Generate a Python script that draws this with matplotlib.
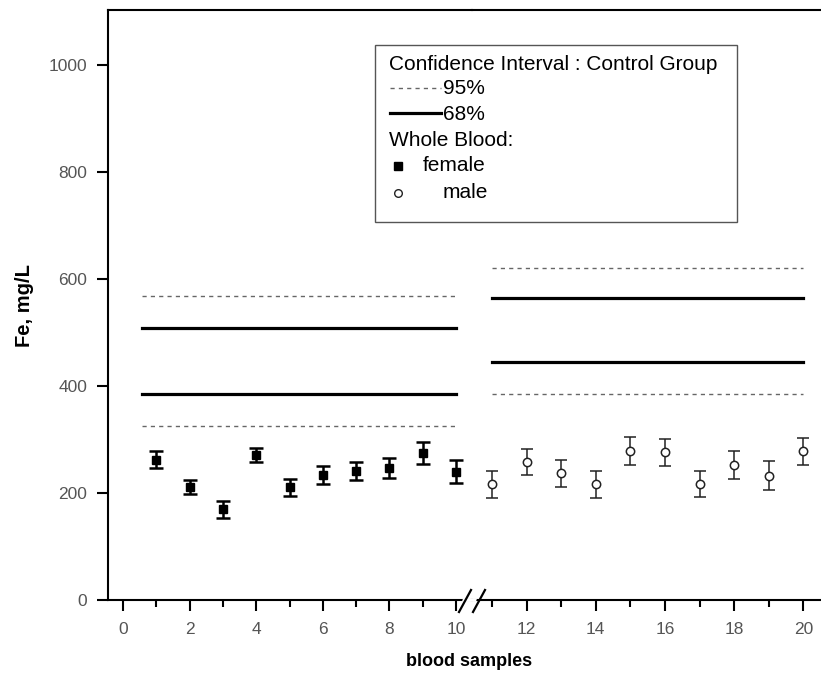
import matplotlib
matplotlib.use("Agg")
import matplotlib.pyplot as plt
from matplotlib.lines import Line2D
from matplotlib.patches import Rectangle, Polygon
import numpy as np

plt.rcParams['font.family'] = ['Liberation Sans', 'DejaVu Sans']

# ---- data ----
female_x = [1, 2, 3, 4, 5, 6, 7, 8, 9, 10]
female_y = [262, 211, 170, 271, 211, 234, 241, 247, 275, 240]
female_err = [16, 13, 16, 13, 16, 17, 17, 18, 21, 22]

male_x = [11, 12, 13, 14, 15, 16, 17, 18, 19, 20]
male_y = [216, 258, 237, 216, 278, 276, 217, 253, 232, 278]
male_err = [25, 25, 25, 25, 26, 25, 25, 26, 27, 25]

female_ci95 = [325, 568]
female_ci68 = [385, 508]
female_span = [0.57, 10]
male_ci95 = [385, 620]
male_ci68 = [445, 564]
male_span = [11, 20]

left_ticks = [0, 2, 4, 6, 8, 10]
right_ticks = [12, 14, 16, 18, 20]
y_ticks = [0, 200, 400, 600, 800, 1000]

W, H = 821, 674
fig = plt.figure(figsize=(W / 100, H / 100), dpi=100)

def fx(px):
    return px / W

def fy(py):
    return 1 - py / H

top_px, bot_px = 10, 600
break_px = 472
ax1 = fig.add_axes([fx(108), fy(bot_px), fx(break_px) - fx(108), fy(top_px) - fy(bot_px)])
ax2 = fig.add_axes([fx(break_px), fy(bot_px), fx(832) - fx(break_px), fy(top_px) - fy(bot_px)])

ax1.set_xlim(-0.45, 10.48)
ax2.set_xlim(10.42, 20.83)
for ax in (ax1, ax2):
    ax.set_ylim(0, 1103)
    ax.set_facecolor('none')
    for s in ax.spines.values():
        s.set_linewidth(1.5)
    ax.tick_params(axis='both', which='major', direction='out', length=8, width=1.5,
                   labelsize=12.5, labelcolor='#555555')
    ax.tick_params(axis='x', which='major', pad=8)
    ax.tick_params(axis='y', which='major', pad=7)
    ax.tick_params(axis='both', which='minor', direction='out', length=5, width=1.5)

ax1.spines['right'].set_visible(False)
ax2.spines['left'].set_visible(False)
ax2.spines['right'].set_visible(False)
ax2.tick_params(axis='y', which='both', left=False, labelleft=False)

ax1.set_xticks(left_ticks)
ax1.set_xticks([1, 3, 5, 7, 9], minor=True)
ax2.set_xticks(right_ticks)
ax2.set_xticks([11, 13, 15, 17, 19], minor=True)
ax1.set_yticks(y_ticks)

# CI lines
dash = (0, (3, 3))
ax1.plot(female_span, [female_ci95[0]] * 2, ls=dash, color='#666666', lw=1.0)
ax1.plot(female_span, [female_ci95[1]] * 2, ls=dash, color='#666666', lw=1.0)
ax1.plot(female_span, [female_ci68[0]] * 2, color='black', lw=2.3)
ax1.plot(female_span, [female_ci68[1]] * 2, color='black', lw=2.3)
ax2.plot(male_span, [male_ci95[0]] * 2, ls=dash, color='#666666', lw=1.0)
ax2.plot(male_span, [male_ci95[1]] * 2, ls=dash, color='#666666', lw=1.0)
ax2.plot(male_span, [male_ci68[0]] * 2, color='black', lw=2.3)
ax2.plot(male_span, [male_ci68[1]] * 2, color='black', lw=2.3)

# data points
ax1.errorbar(female_x, female_y, yerr=female_err, fmt='s', color='black', ms=5.6,
             ecolor='black', elinewidth=1.8, capsize=4.8, capthick=1.8)
ax2.errorbar(male_x, male_y, yerr=male_err, fmt='o', mfc='white', mec='#222222', ms=6,
             mew=1.1, ecolor='#222222', elinewidth=1.1, capsize=4.0, capthick=1.1)

fig.text(fx(24), fy(306), 'Fe, mg/L', fontsize=14.5, fontweight='bold',
         rotation=90, ha='center', va='center')
fig.text(fx(469), fy(662), 'blood samples', fontsize=13, fontweight='bold',
         ha='center', va='center')

# break marks
fig.add_artist(Polygon([(fx(462), fy(601.5)), (fx(476), fy(601.5)), (fx(477), fy(598.5)), (fx(463), fy(598.5))],
                       closed=True, facecolor='white', edgecolor='none', transform=fig.transFigure, zorder=5))
for x0 in (459, 473):
    fig.add_artist(Line2D([fx(x0), fx(x0 + 12)], [fy(612), fy(590)], color='black', lw=1.6,
                          transform=fig.transFigure, zorder=6))

# legend box (manual)
fig.add_artist(Rectangle((fx(375), fy(222)), fx(737) - fx(375), fy(45) - fy(222),
                         facecolor='white', edgecolor='#555555', lw=1.0,
                         transform=fig.transFigure, zorder=7))
tkw = dict(fontsize=15, va='center', ha='left', color='black', zorder=8)
fig.text(fx(389), fy(64), 'Confidence Interval : Control Group', **tkw)
fig.add_artist(Line2D([fx(390), fx(441)], [fy(88), fy(88)], ls=dash, color='#666666', lw=1.0,
                      transform=fig.transFigure, zorder=8))
fig.text(fx(443), fy(89), '95%', **tkw)
fig.add_artist(Line2D([fx(390), fx(441)], [fy(113), fy(113)], color='black', lw=2.3,
                      transform=fig.transFigure, zorder=8))
fig.text(fx(443), fy(114), '68%', **tkw)
fig.text(fx(389), fy(140), 'Whole Blood:', **tkw)
fig.add_artist(Line2D([fx(398)], [fy(166)], marker='s', ms=5.6, color='black', ls='none',
                      transform=fig.transFigure, zorder=8))
fig.text(fx(423), fy(166), 'female', **tkw)
fig.add_artist(Line2D([fx(398)], [fy(193)], marker='o', ms=5.5, mfc='white', mec='#222222', mew=1.0,
                      ls='none', transform=fig.transFigure, zorder=8))
fig.text(fx(443), fy(193), 'male', **tkw)

fig.savefig('out.png', dpi=100)
